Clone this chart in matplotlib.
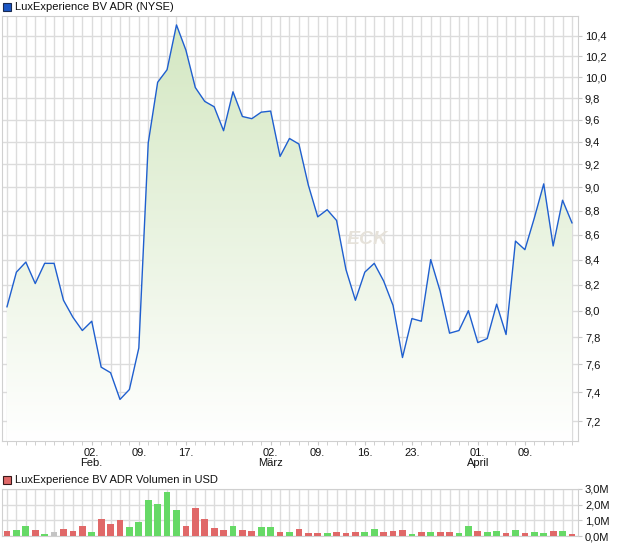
import numpy as np
import pandas as pd
import matplotlib
matplotlib.use('Agg')
import matplotlib.pyplot as plt
from matplotlib.patches import Rectangle
from matplotlib.ticker import FixedLocator, NullLocator

plt.rcParams['font.family'] = ['Liberation Sans', 'DejaVu Sans']

# Schlusskurse in USD (NYSE), 20.01. - 16.04.
kurse = [8.03, 8.30, 8.38, 8.21, 8.37, 8.37, 8.08, 7.95, 7.85, 7.92,
         7.58, 7.54, 7.35, 7.42, 7.72, 9.39, 9.95, 10.07, 10.51, 10.26,
         9.90, 9.77, 9.72, 9.50, 9.86, 9.63, 9.61, 9.67, 9.68, 9.27,
         9.43, 9.38, 9.02, 8.75, 8.81, 8.72, 8.32, 8.08, 8.30, 8.37,
         8.23, 8.04, 7.65, 7.94, 7.92, 8.40, 8.15, 7.83, 7.85, 8.00,
         7.76, 7.79, 8.05, 7.82, 8.55, 8.48, 8.74, 9.03, 8.51, 8.89, 8.70]

# Volumen in Mio. USD
volumen = [0.32, 0.36, 0.62, 0.36, 0.11, 0.23, 0.43, 0.32, 0.62, 0.23,
           1.06, 0.74, 1.00, 0.55, 0.89, 2.28, 2.02, 2.79, 1.64, 0.62,
           1.77, 1.06, 0.49, 0.36, 0.62, 0.36, 0.32, 0.55, 0.55, 0.23,
           0.23, 0.43, 0.20, 0.17, 0.17, 0.23, 0.17, 0.23, 0.23, 0.43,
           0.23, 0.30, 0.36, 0.11, 0.23, 0.23, 0.23, 0.23, 0.17, 0.62,
           0.30, 0.23, 0.30, 0.17, 0.36, 0.17, 0.23, 0.17, 0.30, 0.30, 0.11]

# Handelstage (ohne Presidents' Day und Karfreitag)
handelstage = pd.bdate_range('2026-01-20', '2026-04-16', freq='C',
                             holidays=['2026-02-16', '2026-04-03'])

tick_daten = ['2026-02-02', '2026-02-09', '2026-02-17', '2026-03-02', '2026-03-09',
              '2026-03-16', '2026-03-23', '2026-04-01', '2026-04-09']
tick_labels = ['02.\nFeb.', '09.', '17.', '02.\nMärz', '09.', '16.', '23.', '01.\nApril', '09.']

y_ticks = [7.2, 7.4, 7.6, 7.8, 8.0, 8.2, 8.4, 8.6, 8.8, 9.0, 9.2, 9.4, 9.6, 9.8, 10.0, 10.2, 10.4]
vol_ticks = [0, 1, 2, 3]

grid_farbe = '#dcdcdc'
x = np.arange(len(kurse))
tick_pos = [handelstage.get_loc(pd.Timestamp(d)) for d in tick_daten]

# Farben der Volumenbalken nach Kursveränderung
diff = np.diff(kurse, prepend=kurse[0] + 1)
farben = ['#66d966' if d > 0 else ('#e06868' if d < 0 else '#c4c4c4') for d in diff]

fig = plt.figure(figsize=(6.2, 5.46), dpi=100)

# --- Kurschart ---
ax = fig.add_axes([2/620, 105/546, 576/620, 425/546])
ax.set_yscale('log')
y_unten, y_oben = 7.064, 10.60
ax.set_xlim(-0.53, len(kurse) - 1 + 0.64)
ax.set_ylim(y_unten, y_oben)

flaeche = ax.fill_between(x, kurse, y_unten, color='none', lw=0)
top = np.array([211, 231, 193]) / 255
verlauf = np.linspace(0, 1, 256)[:, None]
rgb = top[None, :] * (1 - verlauf) + np.ones(3)[None, :] * verlauf
img = ax.imshow(rgb[:, None, :], extent=(0, 1, 0, 1), transform=ax.transAxes,
                aspect='auto', zorder=2, interpolation='bilinear')
img.set_clip_path(flaeche.get_paths()[0], transform=ax.transData)
ax.set_xlim(-0.53, len(kurse) - 1 + 0.64)
ax.set_ylim(y_unten, y_oben)

ax.plot(x, kurse, color='#1f5fcf', lw=1.0, zorder=4)
ax.text(367/620, 1 - 240/546, 'ECK', transform=fig.transFigure, fontsize=14,
        fontweight='bold', style='italic', color='#e6e2da', ha='center', va='center', zorder=3)

ax.yaxis.tick_right()
ax.yaxis.set_major_locator(FixedLocator(y_ticks))
ax.yaxis.set_minor_locator(NullLocator())
ax.set_yticklabels([f'{v:.1f}'.replace('.', ',') for v in y_ticks])
ax.set_xticks(x, minor=True)
ax.set_xticks(tick_pos)
ax.set_xticklabels(tick_labels, linespacing=1.05)
ax.grid(True, axis='x', which='both', color=grid_farbe, lw=1.0)
ax.grid(True, axis='y', which='major', color=grid_farbe, lw=1.0)
ax.tick_params(axis='both', which='both', length=3, color='#c8c8c8', labelsize=8,
               pad=2, labelcolor='#111111')
for s in ax.spines.values():
    s.set_color('#d0d0d0')

# --- Volumen ---
vax = fig.add_axes([2/620, 10/546, 576/620, 47/546])
vax.bar(x, volumen, width=0.72, color=farben, zorder=3)
vax.set_xlim(-0.53, len(kurse) - 1 + 0.64)
vax.set_ylim(0, 3)
vax.yaxis.tick_right()
vax.set_yticks(vol_ticks)
vax.set_yticklabels([f'{v:.1f}M'.replace('.', ',') for v in vol_ticks])
vax.set_xticks(x, minor=True)
vax.set_xticks([])
vax.grid(True, axis='x', which='minor', color=grid_farbe, lw=1.0)
vax.grid(True, axis='y', color=grid_farbe, lw=1.0)
vax.tick_params(axis='x', which='both', length=0)
vax.tick_params(axis='y', length=3, color='#c8c8c8', labelsize=8, pad=2, labelcolor='#111111')
for s in vax.spines.values():
    s.set_color('#d0d0d0')

# --- Legenden ---
fig.patches.append(Rectangle((3/620, 1 - 11/546), 8/620, 8/546, transform=fig.transFigure,
                             facecolor='#1a56c4', edgecolor='#1a2a50', lw=0.8))
fig.text(15/620, 1 - 7/546, 'LuxExperience BV ADR (NYSE)', va='center', fontsize=8, color='#111111')
fig.patches.append(Rectangle((3/620, 1 - 484/546), 8/620, 8/546, transform=fig.transFigure,
                             facecolor='#e06868', edgecolor='#3a1a1a', lw=0.8))
fig.text(15/620, 1 - 480/546, 'LuxExperience BV ADR Volumen in USD', va='center', fontsize=8, color='#111111')

fig.savefig('out.png', dpi=100)
